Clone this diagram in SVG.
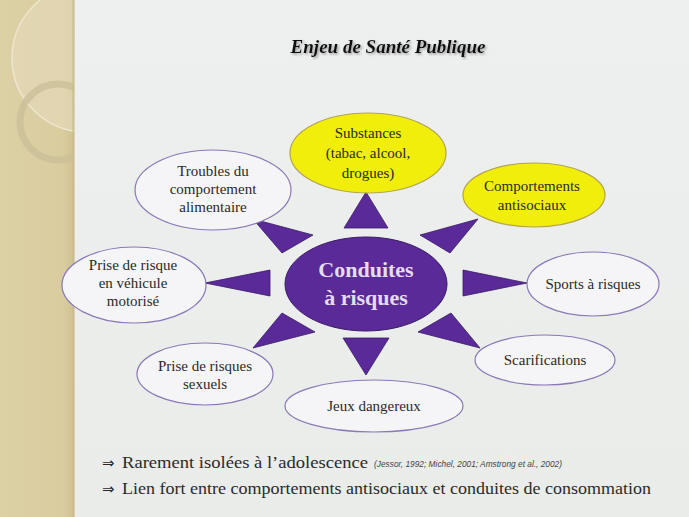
<svg xmlns="http://www.w3.org/2000/svg" width="689" height="517" viewBox="0 0 689 517">
<defs>
<linearGradient id="bg" x1="0" y1="0" x2="0" y2="1">
<stop offset="0" stop-color="#eef0ef"/>
<stop offset="1" stop-color="#e9ece9"/>
</linearGradient>
<linearGradient id="band" x1="0" y1="0" x2="1" y2="0">
<stop offset="0" stop-color="#dcd0a6"/>
<stop offset="0.85" stop-color="#d9cc9f"/>
<stop offset="1" stop-color="#cfc192"/>
</linearGradient>
<clipPath id="bandClip"><rect x="0" y="0" width="74" height="517"/></clipPath>
<filter id="sh" x="-10%" y="-40%" width="120%" height="180%">
<feDropShadow dx="1.5" dy="1.5" stdDeviation="1" flood-color="#777" flood-opacity="0.7"/>
</filter>
<style>
.sat{fill:#f5f5f7;stroke:#8a78b8;stroke-width:1.2}
.yel{fill:#f0ee0a;stroke:#b4a450;stroke-width:1.2}
.tri{fill:#5a2a98;stroke:#3a1a66;stroke-width:0.8}
.t{font-family:'Liberation Serif','DejaVu Serif',serif;font-size:15px;fill:#2a2a2a;text-anchor:middle}
.ct{font-family:'Liberation Serif','DejaVu Serif',serif;font-size:22px;font-weight:bold;fill:#e6dcf0;text-anchor:middle}
.b{font-family:'Liberation Serif','DejaVu Serif',serif;font-size:17px;fill:#2a2a2a}
.ar{font-family:'DejaVu Sans',sans-serif;font-size:15px;fill:#2a2a2a}
.cit{font-family:'Liberation Sans',Arial,sans-serif;font-size:8.5px;font-style:italic;fill:#444}
.ttl{font-family:'Liberation Serif','DejaVu Serif',serif;font-size:19px;font-weight:bold;font-style:italic;fill:#111;text-anchor:middle}
</style>
</defs>
<rect x="0" y="0" width="689" height="517" fill="url(#bg)"/>
<g id="band-deco">
<rect x="0" y="0" width="74" height="517" fill="url(#band)"/>
<g clip-path="url(#bandClip)">
<circle cx="86" cy="58" r="74" fill="#e6dcbc" fill-opacity="0.6" stroke="#eee6cc" stroke-width="1.5"/>
<circle cx="58" cy="122" r="38" fill="none" stroke="#cbbf98" stroke-width="7" stroke-opacity="0.8"/>
</g>
<rect x="72" y="0" width="3" height="517" fill="#c9bb8e" opacity="0.6"/>
</g>
<g id="title">
<text class="ttl" x="388" y="53" filter="url(#sh)">Enjeu de Santé Publique</text>
</g>
<g id="connectors">
<polygon class="tri" points="366,192 344,228 388,228"/>
<polygon class="tri" points="253,219 282,253 313,235"/>
<polygon class="tri" points="478,219 450,253 420,235"/>
<polygon class="tri" points="205,283 270,270 270,296"/>
<polygon class="tri" points="527,283 463,270 463,296"/>
<polygon class="tri" points="253,348 282,313 315,332"/>
<polygon class="tri" points="480,348 451,313 418,332"/>
<polygon class="tri" points="366,375 343,338 389,338"/>
</g>
<g id="center">
<ellipse cx="366" cy="284" rx="81" ry="47" fill="#5a2a98" stroke="#3a1a66" stroke-width="1"/>
<text class="ct" x="366" y="277">Conduites</text>
<text class="ct" x="366" y="305">à risques</text>
</g>
<g id="substances">
<ellipse class="yel" cx="368" cy="153" rx="78" ry="40"/>
<text class="t" x="368" y="138">Substances</text>
<text class="t" x="368" y="158">(tabac, alcool,</text>
<text class="t" x="368" y="178">drogues)</text>
</g>
<g id="antisociaux">
<ellipse class="yel" cx="534" cy="195" rx="71" ry="32"/>
<text class="t" x="532" y="191">Comportements</text>
<text class="t" x="532" y="210">antisociaux</text>
</g>
<g id="troubles">
<ellipse class="sat" cx="213" cy="190" rx="78" ry="40"/>
<text class="t" x="213" y="176">Troubles du</text>
<text class="t" x="213" y="194">comportement</text>
<text class="t" x="213" y="212">alimentaire</text>
</g>
<g id="vehicule">
<ellipse class="sat" cx="134" cy="285" rx="72" ry="38"/>
<text class="t" x="133" y="270">Prise de risque</text>
<text class="t" x="133" y="288">en véhicule</text>
<text class="t" x="133" y="306">motorisé</text>
</g>
<g id="sports">
<ellipse class="sat" cx="593" cy="284" rx="66" ry="32"/>
<text class="t" x="593" y="289">Sports à risques</text>
</g>
<g id="scarifications">
<ellipse class="sat" cx="545" cy="360" rx="70" ry="25"/>
<text class="t" x="545" y="365">Scarifications</text>
</g>
<g id="jeux">
<ellipse class="sat" cx="374" cy="406" rx="89" ry="26"/>
<text class="t" x="374" y="411">Jeux dangereux</text>
</g>
<g id="sexuels">
<ellipse class="sat" cx="205" cy="374" rx="68" ry="31"/>
<text class="t" x="205" y="371">Prise de risques</text>
<text class="t" x="205" y="389">sexuels</text>
</g>
<g id="notes">
<text class="ar" x="102" y="468">⇒</text>
<text class="b" x="122" y="468" textLength="246" lengthAdjust="spacingAndGlyphs">Rarement isolées à l’adolescence</text>
<text class="cit" x="374" y="467" textLength="188" lengthAdjust="spacingAndGlyphs">(Jessor, 1992;  Michel, 2001; Amstrong et al., 2002)</text>
<text class="ar" x="102" y="494">⇒</text>
<text class="b" x="122" y="494" textLength="529" lengthAdjust="spacingAndGlyphs">Lien fort entre comportements antisociaux et conduites de consommation</text>
</g>
</svg>
